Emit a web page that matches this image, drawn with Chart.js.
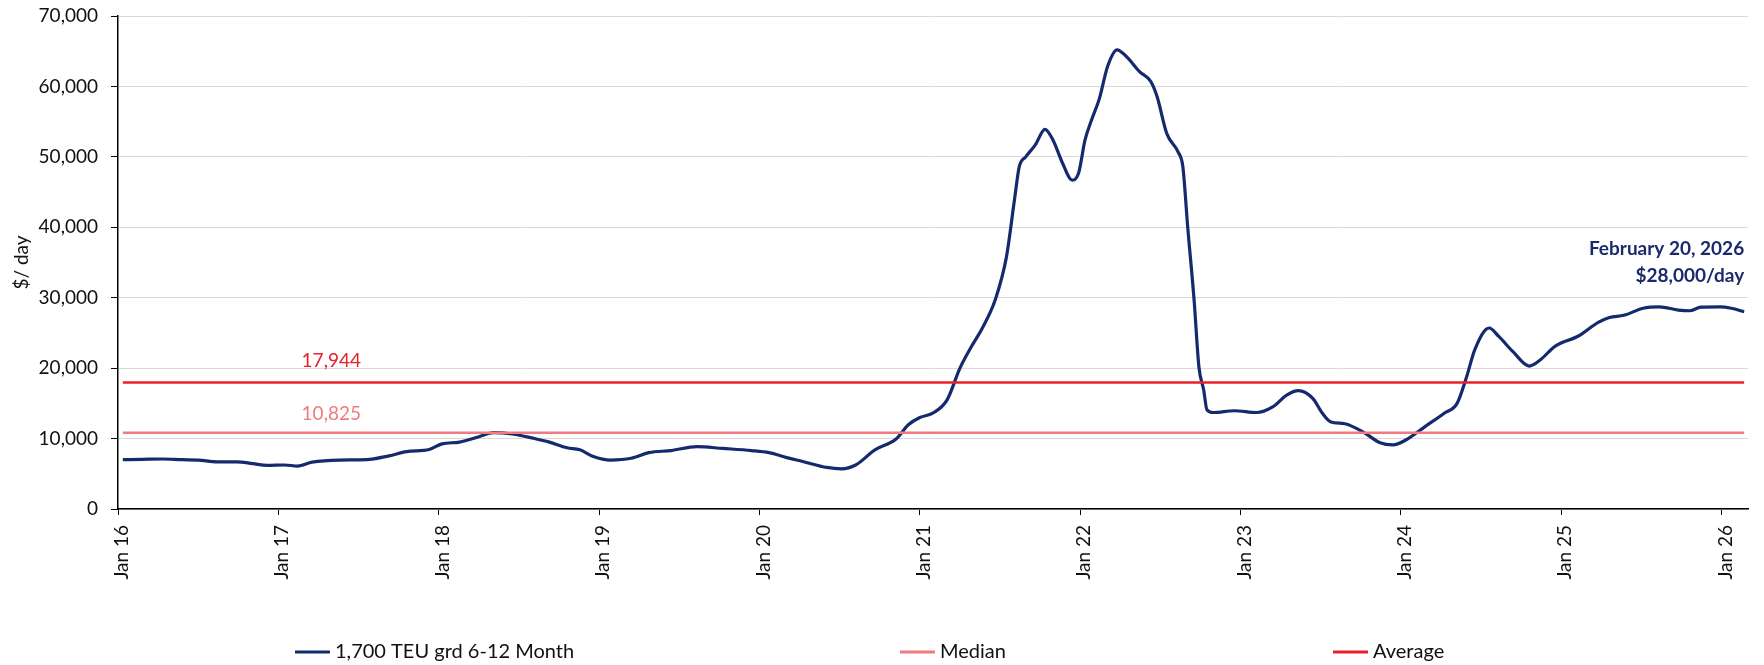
<!DOCTYPE html>
<html>
<head>
<meta charset="utf-8">
<script src="https://cdn.jsdelivr.net/npm/chart.js@4.4.1/dist/chart.umd.min.js"></script>
<style>
  html, body { margin: 0; padding: 0; background: #ffffff; }
  #wrap { width: 1764px; height: 665px; }
</style>
</head>
<body>
<div id="wrap"><canvas id="chart" width="1764" height="665"></canvas></div>
<script>
// Time charter rate, 1,700 TEU geared, 6-12 month period ($/day)
const dateYears = [
  2016.03, 2016.15, 2016.28, 2016.40, 2016.50, 2016.62, 2016.74, 2016.84, 2016.93,
  2017.04, 2017.12, 2017.21, 2017.38, 2017.55, 2017.69, 2017.80, 2017.94,
  2018.02, 2018.13, 2018.25, 2018.34, 2018.46, 2018.59, 2018.69, 2018.80, 2018.88, 2018.96,
  2019.07, 2019.20, 2019.31, 2019.45, 2019.61, 2019.77, 2019.95,
  2020.06, 2020.17, 2020.27, 2020.42, 2020.51, 2020.60, 2020.72, 2020.85, 2020.93,
  2021.00, 2021.08, 2021.17, 2021.25, 2021.32, 2021.39, 2021.47, 2021.54, 2021.59, 2021.62,
  2021.66, 2021.72, 2021.78, 2021.83, 2021.89, 2021.95, 2021.99,
  2022.03, 2022.07, 2022.12, 2022.17, 2022.23, 2022.29, 2022.37, 2022.44, 2022.48, 2022.54,
  2022.61, 2022.64, 2022.67, 2022.71, 2022.74, 2022.77, 2022.79, 2022.83, 2022.96,
  2023.10, 2023.20, 2023.29, 2023.36, 2023.45, 2023.51, 2023.56, 2023.65, 2023.77, 2023.87, 2023.95,
  2024.03, 2024.15, 2024.27, 2024.35, 2024.41, 2024.46, 2024.55, 2024.61, 2024.70, 2024.80, 2024.87, 2024.96,
  2025.11, 2025.23, 2025.30, 2025.39, 2025.51, 2025.61, 2025.73, 2025.80, 2025.87, 2025.99,
  2026.06, 2026.14
];
const rates = [
  7000, 7050, 7100, 7000, 6950, 6700, 6700, 6450, 6200,
  6250, 6100, 6650, 6950, 7000, 7550, 8150, 8450,
  9250, 9500, 10250, 10850, 10650, 10050, 9500, 8700, 8400, 7500,
  6950, 7200, 8000, 8300, 8850, 8600, 8300,
  8000, 7300, 6750, 5900, 5700, 6250, 8400, 9900, 12000,
  13000, 13600, 15500, 20000, 23000, 25700, 29700, 35800, 43900, 48600,
  50000, 51700, 53900, 52400, 49100, 46700, 47700,
  52400, 55200, 58300, 62800, 65200, 64200, 62100, 60700, 58500, 53300,
  50700, 48600, 40100, 29700, 20200, 16900, 14100, 13700, 13950,
  13700, 14500, 16200, 16800, 15700, 13600, 12400, 12100, 10850, 9400, 9100,
  9800, 11700, 13600, 15000, 18800, 22600, 25700, 24500, 22300, 20300, 21200, 23100,
  24600, 26500, 27200, 27500, 28500, 28700, 28250, 28150, 28650, 28700,
  28500, 28000
];
const medianRate = 10825;
const averageRate = 17944;

const tickYears = [2016, 2017, 2018, 2019, 2020, 2021, 2022, 2023, 2024, 2025, 2026];
const tickLabels = ['Jan 16', 'Jan 17', 'Jan 18', 'Jan 19', 'Jan 20', 'Jan 21',
                    'Jan 22', 'Jan 23', 'Jan 24', 'Jan 25', 'Jan 26'];
const seriesNames = ['1,700 TEU grd 6-12 Month', 'Median', 'Average'];
const latestDate = 'February 20, 2026';
const latestRateText = '$28,000/day';

const NAVY = '#15296d';
const PINK = '#f07b7f';
const RED = '#e8202a';
const FONT = 'Lato, "Open Sans", sans-serif';

const fmt = v => Math.round(v).toLocaleString('en-US');
const firstX = dateYears[0];
const lastX = dateYears[dateYears.length - 1];

const seriesPoints = rates.map((v, i) => ({ x: dateYears[i], y: v }));
const flatLine = v => [{ x: firstX, y: v }, { x: lastX, y: v }];

// Value captions over the median / average lines
const levelLabels = {
  id: 'levelLabels',
  afterDatasetsDraw(chart, args, opts) {
    const { ctx, scales: { x, y } } = chart;
    ctx.save();
    ctx.font = opts.font;
    ctx.textAlign = 'center';
    ctx.textBaseline = 'alphabetic';
    opts.items.forEach(it => {
      ctx.fillStyle = it.color;
      ctx.fillText(fmt(it.value), x.getPixelForValue(opts.atYear), y.getPixelForValue(it.value) - it.lift);
    });
    ctx.restore();
  }
};

// Latest-observation note at the right end of the series
const latestNote = {
  id: 'latestNote',
  afterDatasetsDraw(chart, args, opts) {
    const { ctx, scales: { x, y } } = chart;
    ctx.save();
    ctx.font = opts.font;
    ctx.fillStyle = opts.color;
    ctx.textAlign = 'right';
    ctx.textBaseline = 'alphabetic';
    const px = x.getPixelForValue(lastX);
    const py = y.getPixelForValue(opts.atValue);
    opts.lines.forEach((t, i) => ctx.fillText(t, px, py + i * opts.lineGap));
    ctx.restore();
  }
};

// Legend row beneath the axis labels
const bottomLegend = {
  id: 'bottomLegend',
  afterDraw(chart, args, opts) {
    const { ctx } = chart;
    ctx.save();
    ctx.font = opts.font;
    ctx.textBaseline = 'middle';
    ctx.textAlign = 'left';
    chart.data.datasets.forEach((ds, i) => {
      const x0 = opts.itemX[i];
      ctx.strokeStyle = ds.borderColor;
      ctx.lineWidth = 3;
      ctx.beginPath();
      ctx.moveTo(x0, opts.y);
      ctx.lineTo(x0 + opts.swatch, opts.y);
      ctx.stroke();
      ctx.fillStyle = opts.color;
      ctx.fillText(ds.label, x0 + opts.swatch + opts.gap, opts.y);
    });
    ctx.restore();
  }
};

new Chart(document.getElementById('chart'), {
  type: 'line',
  data: {
    datasets: [
      {
        label: seriesNames[0],
        data: seriesPoints,
        borderColor: NAVY,
        borderWidth: 3.2,
        pointRadius: 0,
        cubicInterpolationMode: 'monotone',
        order: 3
      },
      {
        label: seriesNames[1],
        data: flatLine(medianRate),
        borderColor: PINK,
        borderWidth: 2.5,
        pointRadius: 0,
        order: 2
      },
      {
        label: seriesNames[2],
        data: flatLine(averageRate),
        borderColor: RED,
        borderWidth: 2.5,
        pointRadius: 0,
        order: 1
      }
    ]
  },
  options: {
    responsive: false,
    animation: false,
    devicePixelRatio: 1,
    layout: { padding: { left: 0, right: 16, top: 16, bottom: 0 } },
    plugins: {
      legend: { display: false },
      tooltip: { enabled: false },
      levelLabels: {
        font: '19px ' + FONT,
        atYear: 2017.33,
        items: [
          { value: averageRate, color: RED, lift: 16 },
          { value: medianRate, color: PINK, lift: 13 }
        ]
      },
      latestNote: {
        font: 'bold 19px ' + FONT,
        color: '#1b2a6b',
        atValue: 36000,
        lineGap: 27,
        lines: [latestDate, latestRateText]
      },
      bottomLegend: {
        font: '20px ' + FONT,
        color: '#111111',
        y: 652,
        swatch: 35,
        gap: 5,
        itemX: [295, 900, 1333]
      }
    },
    scales: {
      x: {
        type: 'linear',
        min: 2016,
        max: 2026.164,
        afterFit: s => { s.height = 156; s.paddingLeft = 0; s.paddingRight = 0; },
        afterBuildTicks: s => { s.ticks = tickYears.map(v => ({ value: v })); },
        grid: {
          drawOnChartArea: false,
          drawTicks: true,
          tickLength: 6,
          tickColor: '#000000'
        },
        border: { color: '#000000', width: 1.5 },
        ticks: {
          autoSkip: false,
          minRotation: 90,
          maxRotation: 90,
          padding: 10,
          labelOffset: 4,
          color: '#111111',
          font: { family: FONT, size: 19 },
          callback: (v, i) => tickLabels[i]
        }
      },
      y: {
        min: 0,
        max: 70000,
        afterFit: s => { s.width = 118; s.paddingTop = 0; s.paddingBottom = 0; },
        grid: {
          color: '#d9d9d9',
          lineWidth: 1,
          drawTicks: true,
          tickLength: 7,
          tickColor: '#000000'
        },
        border: { color: '#000000', width: 1.5 },
        ticks: {
          stepSize: 10000,
          padding: 13,
          color: '#111111',
          font: { family: FONT, size: 19 },
          callback: v => fmt(v)
        },
        title: {
          display: true,
          text: '$/ day',
          color: '#111111',
          font: { family: FONT, size: 19 },
          padding: { top: 10, bottom: 0 }
        }
      }
    }
  },
  plugins: [levelLabels, latestNote, bottomLegend]
});
</script>
</body>
</html>
